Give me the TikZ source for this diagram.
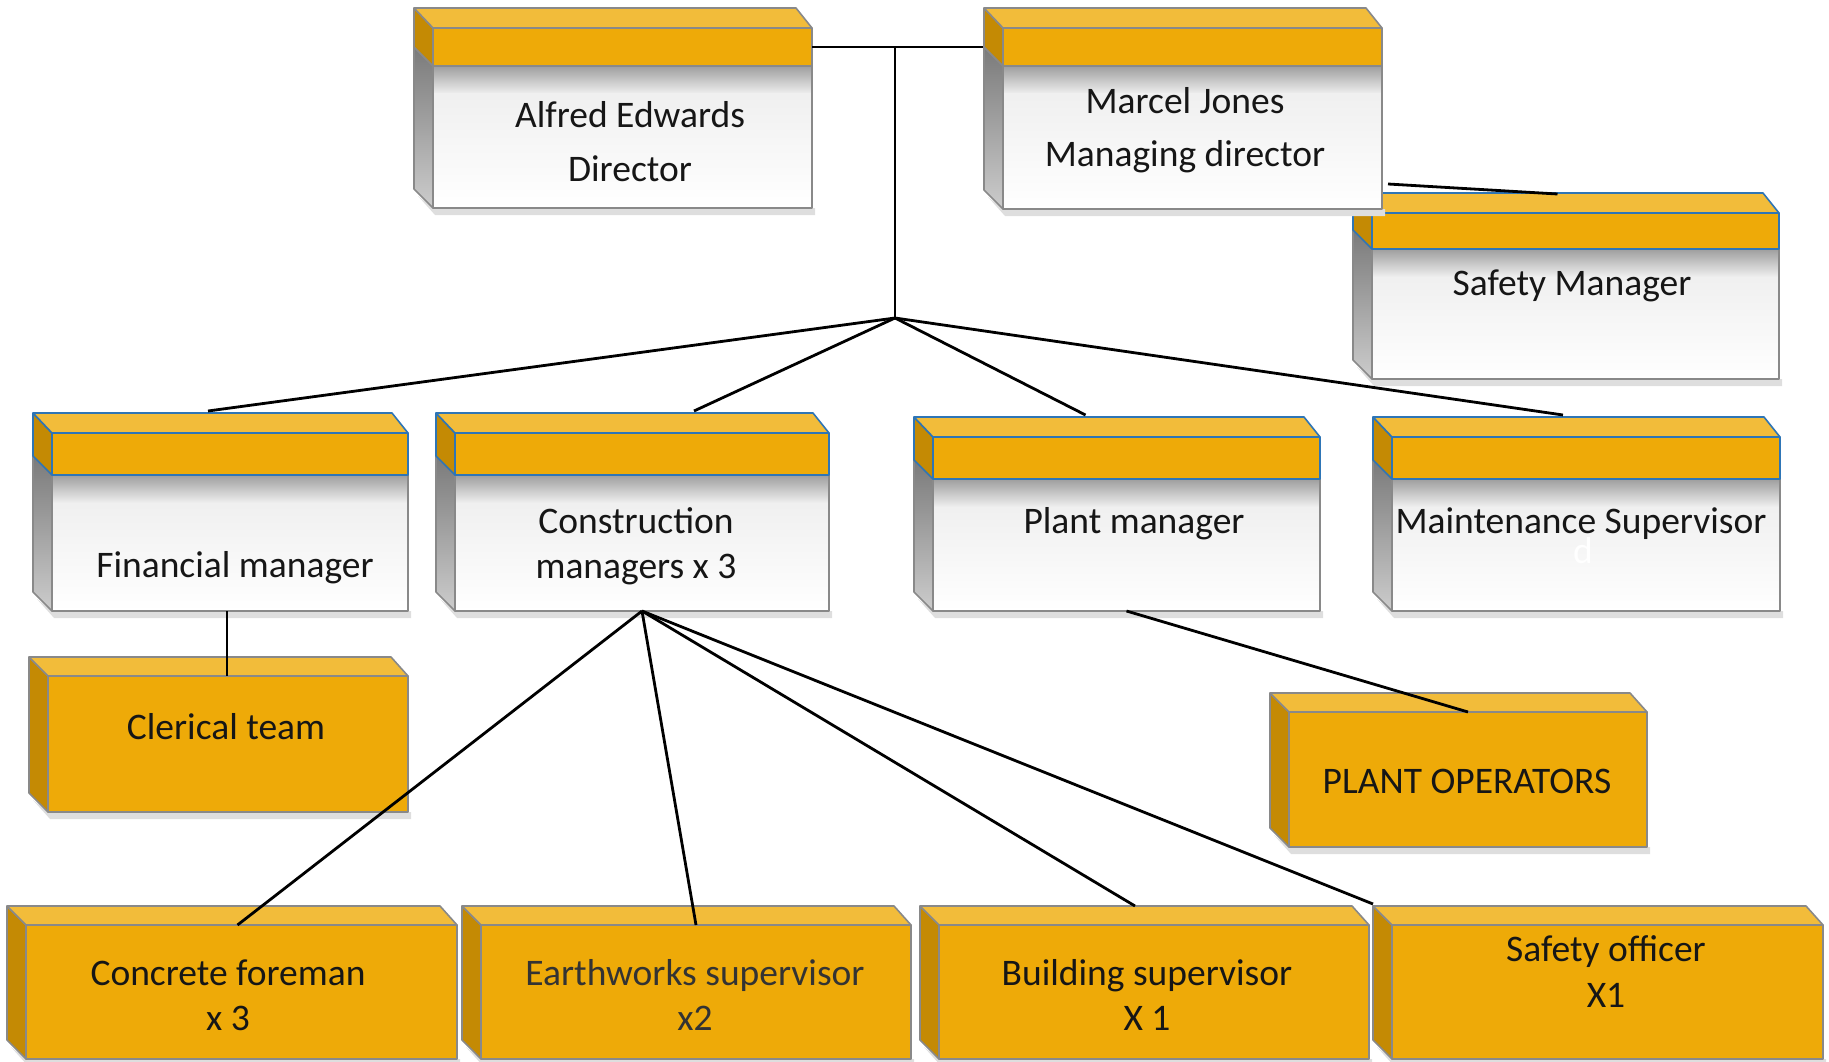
\documentclass[tikz,border=0pt]{standalone}
\usepackage{fontspec}
\setmainfont{Carlito}
\usetikzlibrary{calc}
\definecolor{goldfront}{RGB}{238,170,8}
\definecolor{goldtop}{RGB}{242,188,58}
\definecolor{goldside}{RGB}{196,138,4}
\definecolor{outc}{RGB}{137,137,137}
\definecolor{bluec}{RGB}{46,117,182}
\definecolor{txt}{RGB}{22,22,22}
\tikzset{
  conn/.style={draw=black, line width=2.8pt},
  lbl/.style={font=\fontsize{37.5}{45}\selectfont, align=center, text=txt, inner sep=0pt},
  face/.style={inner sep=0pt, outer sep=0pt},
  edge3d/.style={line width=1.6pt, line join=round},
  shadowc/.style={fill=black!13},
}
\newcommand{\facenode}[5]{\node[face, minimum width={#4pt-#2pt}, minimum height={#5pt-#3pt}] (#1) at ({(#2+#4)/2},{(#3+#5)/2}) {};}
% white box with gold band: name, x1, y1, x2, y2, band bottom, band outline colour
\newcommand{\wbox}[7]{%
  \fill[shadowc] (#2-15,#5-12) -- (#2+2,#5+7) -- (#4+3,#5+7) -- (#4+3,#5) -- (#2,#5) -- cycle;
  \shade[top color=black!52, bottom color=black!20, draw=outc, edge3d] (#2-19,#6-19) -- (#2,#6) -- (#2,#5) -- (#2-19,#5-19) -- cycle;
  \shade[top color=black!38, bottom color=black!6] (#2,#6) rectangle (#4,#6+28);
  \shade[top color=black!6, bottom color=white] (#2,#6+28) rectangle (#4,#5);
  \draw[outc, edge3d] (#2,#6) rectangle (#4,#5);
  \filldraw[fill=goldside, draw=#7, edge3d] (#2-19,#3-20) -- (#2,#3) -- (#2,#6) -- (#2-19,#6-19) -- cycle;
  \filldraw[fill=goldtop, draw=#7, edge3d] (#2-19,#3-20) -- (#4-16,#3-20) -- (#4,#3) -- (#2,#3) -- cycle;
  \filldraw[fill=goldfront, draw=#7, edge3d] (#2,#3) rectangle (#4,#6);
  \facenode{#1}{#2}{#3}{#4}{#5}}
% gold box: name, x1, y1, x2, y2
\newcommand{\gbox}[5]{%
  \fill[shadowc] (#2-15,#5-12) -- (#2+2,#5+7) -- (#4+3,#5+7) -- (#4+3,#5) -- (#2,#5) -- cycle;
  \filldraw[fill=goldside, draw=outc, edge3d] (#2-19,#3-19) -- (#2,#3) -- (#2,#5) -- (#2-19,#5-19) -- cycle;
  \filldraw[fill=goldtop, draw=outc, edge3d] (#2-19,#3-19) -- (#4-17,#3-19) -- (#4,#3) -- (#2,#3) -- cycle;
  \filldraw[fill=goldfront, draw=outc, edge3d] (#2,#3) rectangle (#4,#5);
  \facenode{#1}{#2}{#3}{#4}{#5}}
\begin{document}
\begin{tikzpicture}[x=1pt,y=-1pt]
\useasboundingbox (0,0) rectangle (1829,1062);
% boxes
\wbox{alfred}{433}{28}{812}{208}{66}{outc}
\wbox{safetym}{1372}{213}{1779}{379}{249}{bluec}
\wbox{marcel}{1003}{28}{1382}{209}{66}{outc}
\wbox{finm}{52}{433}{408}{611}{475}{bluec}
\wbox{constm}{455}{433}{829}{611}{475}{bluec}
\wbox{plantm}{933}{437}{1320}{611}{479}{bluec}
\wbox{maintm}{1392}{437}{1780}{611}{479}{bluec}
\gbox{clerical}{48}{676}{408}{812}
\gbox{operators}{1289}{712}{1647}{847}
\gbox{concrete}{26}{925}{457}{1059}
\gbox{earth}{481}{925}{911}{1059}
\gbox{building}{939}{925}{1369}{1059}
\gbox{safetyo}{1392}{925}{1823}{1059}
% labels
\node[lbl, font=\fontsize{37.5}{54}\selectfont] (alfredT) at (630,142) {Alfred Edwards\\Director};
\node[lbl, font=\fontsize{37.5}{53}\selectfont] (marcelT) at (1185,130) {Marcel Jones\\Managing director};
\node[lbl] (safetymT) at (1572,286) {Safety Manager};
\node[lbl] (finmT) at (235,568) {Financial manager};
\node[lbl] (constmT) at (636,546) {Construction\\managers x 3};
\node[lbl] (plantmT) at (1134,524) {Plant manager};
\node[lbl] (maintmT) at (1581,524) {Maintenance Supervisor};
\node[lbl, text=white] (maintmD) at (1583,551) {d};
\node[lbl] (clericalT) at (226,727) {Clerical team};
\node[lbl] (operatorsT) at (1467,781) {PLANT OPERATORS};
\node[lbl] (concreteT) at (228,995) {Concrete foreman\\x 3};
\node[lbl, text=black!80] (earthT) at (695,995) {Earthworks supervisor\\x2};
\node[lbl] (buildingT) at (1147,995) {Building supervisor\\X 1};
\node[lbl, font=\fontsize{37.5}{46}\selectfont] (safetyoT) at (1606,972) {Safety officer\\X1};
% connectors
\coordinate (jtop) at (895,47);
\coordinate (hub) at (895,318);
\draw[conn] ([yshift=-19pt]alfred.north east) -- ([xshift=-20pt,yshift=-19pt]marcel.north west);
\draw[conn] (jtop) -- (hub);
\draw[conn] (hub) -- ([xshift=-22pt,yshift=22pt]finm.north);
\draw[conn] (hub) -- ([xshift=52pt,yshift=22pt]constm.north);
\draw[conn] (hub) -- ([xshift=-41pt,yshift=22pt]plantm.north);
\draw[conn] (hub) -- ([xshift=-23pt,yshift=22pt]maintm.north);
\draw[conn] ([xshift=6pt,yshift=25pt]marcel.south east) -- ([xshift=-18pt,yshift=19pt]safetym.north);
\draw[conn] ([xshift=-3pt]finm.south) -- ([xshift=-3pt]finm.south |- clerical.north);
\draw[conn] (constm.south) -- ([xshift=-4pt]concrete.north);
\draw[conn] (constm.south) -- (earth.north);
\draw[conn] (constm.south) -- ([xshift=-19pt,yshift=19pt]building.north);
\draw[conn] (constm.south) -- ([xshift=-19pt,yshift=21pt]safetyo.north west);
\draw[conn] (plantm.south) -- (operators.north);
\end{tikzpicture}
\end{document}
